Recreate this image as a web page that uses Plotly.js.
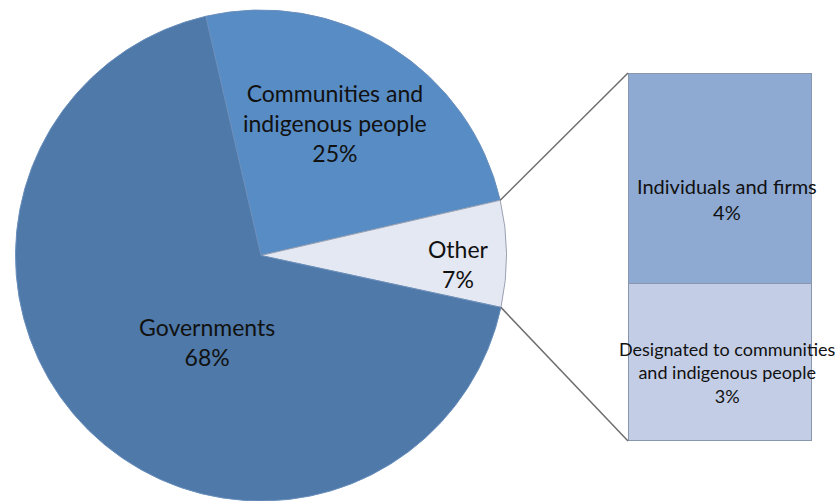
<!DOCTYPE html>
<html>
<head>
<meta charset="utf-8">
<script src="https://cdn.plot.ly/plotly-3.0.1.min.js"></script>
<style>html,body{margin:0;padding:0;background:#fff;}#chart{width:840px;height:501px;}</style>
</head>
<body>
<div id="chart"></div>
<script>
// Pie data
var pieLabels = ["Communities and<br>indigenous people", "Other", "Governments"];
var pieValues = [25, 7, 68];
var pieColors = ["#588cc4", "#e4e8f2", "#4e79a8"];
// Bar ("Other" breakdown) data, bottom to top
var barLabels = ["Designated to communities<br>and indigenous people", "Individuals and firms"];
var barValues = [3, 4];
var barColors = ["#c3cee6", "#8eaad3"];

var W = 840, H = 501;
var pieRot = -13;
// pie domain in pixels
var pdx0 = 15, pdx1 = 507, pdyTop = 10, pdyBot = 501;
var pieDomX = [pdx0 / W, pdx1 / W];
var pieDomY = [0, 1 - pdyTop / H];
var cx = (pdx0 + pdx1) / 2, cy = (pdyTop + pdyBot) / 2;
var r = Math.min(pdx1 - pdx0, pdyBot - pdyTop) / 2;

// bar axes domain in pixels
var bx0 = 628, bx1 = 812, byTop = 73, byBot = 441;
var barDomX = [bx0 / W, bx1 / W];
var barDomY = [1 - byBot / H, 1 - byTop / H];

var total = pieValues.reduce(function(a, b){return a + b;}, 0);
var barTotal = barValues.reduce(function(a, b){return a + b;}, 0);

function piePoint(angDeg) {
  var a = angDeg * Math.PI / 180;
  return [(cx + r * Math.sin(a)) / W, 1 - (cy - r * Math.cos(a)) / H];
}
var a1 = pieRot + pieValues[0] / total * 360;
var a2 = a1 + pieValues[1] / total * 360;
var p1 = piePoint(a1), p2 = piePoint(a2);

var traces = [
  {
    type: "pie",
    labels: pieLabels,
    values: pieValues,
    sort: false,
    direction: "clockwise",
    rotation: pieRot,
    domain: {x: pieDomX, y: pieDomY},
    marker: {colors: pieColors, line: {color: ["#6a8fbd", "#9aa2b2", "#6a8fbd"], width: 1}},
    textinfo: "none",
    hoverinfo: "label+percent",
    showlegend: false
  }
];
for (var i = 0; i < barValues.length; i++) {
  traces.push({
    type: "bar",
    x: [0],
    y: [barValues[i]],
    name: barLabels[i],
    width: 1,
    marker: {color: barColors[i], line: {color: "#8896ae", width: 1.5}},
    textinfo: "none",
    showlegend: false,
    xaxis: "x",
    yaxis: "y"
  });
}

var annotations = [];
var pieLabelPos = [[335, 123], [459, 264], [207, 342]];
for (var j = 0; j < pieLabels.length; j++) {
  annotations.push({
    xref: "paper", yref: "paper",
    x: pieLabelPos[j][0] / W, y: 1 - pieLabelPos[j][1] / H,
    xanchor: "center", yanchor: "middle",
    text: pieLabels[j] + "<br>" + Math.round(pieValues[j] / total * 100) + "%",
    showarrow: false,
    font: {family: "Lato, 'Open Sans', sans-serif", size: 23, color: "#111"}
  });
}
var barLabelPos = [[727, 372], [727, 199]];
var barFontSizes = [18, 20];
for (var k = 0; k < barLabels.length; k++) {
  annotations.push({
    xref: "paper", yref: "paper",
    x: barLabelPos[k][0] / W, y: 1 - barLabelPos[k][1] / H,
    xanchor: "center", yanchor: "middle",
    text: barLabels[k] + "<br>" + barValues[k] + "%",
    showarrow: false,
    font: {family: "Lato, 'Open Sans', sans-serif", size: barFontSizes[k], color: "#111"}
  });
}

var layout = {
  width: W, height: H,
  margin: {l: 0, r: 0, t: 0, b: 0},
  paper_bgcolor: "#ffffff",
  plot_bgcolor: "rgba(0,0,0,0)",
  barmode: "stack",
  xaxis: {domain: barDomX, range: [-0.5, 0.5], visible: false, fixedrange: true},
  yaxis: {domain: barDomY, range: [0, barTotal], visible: false, fixedrange: true},
  shapes: [
    {type: "line", xref: "paper", yref: "paper", x0: p1[0], y0: p1[1], x1: barDomX[0], y1: barDomY[1], line: {color: "#6e6e6e", width: 1.5}},
    {type: "line", xref: "paper", yref: "paper", x0: p2[0], y0: p2[1], x1: barDomX[0], y1: barDomY[0], line: {color: "#6e6e6e", width: 1.5}}
  ],
  annotations: annotations
};

Plotly.newPlot("chart", traces, layout, {displayModeBar: false, staticPlot: true});
</script>
</body>
</html>
